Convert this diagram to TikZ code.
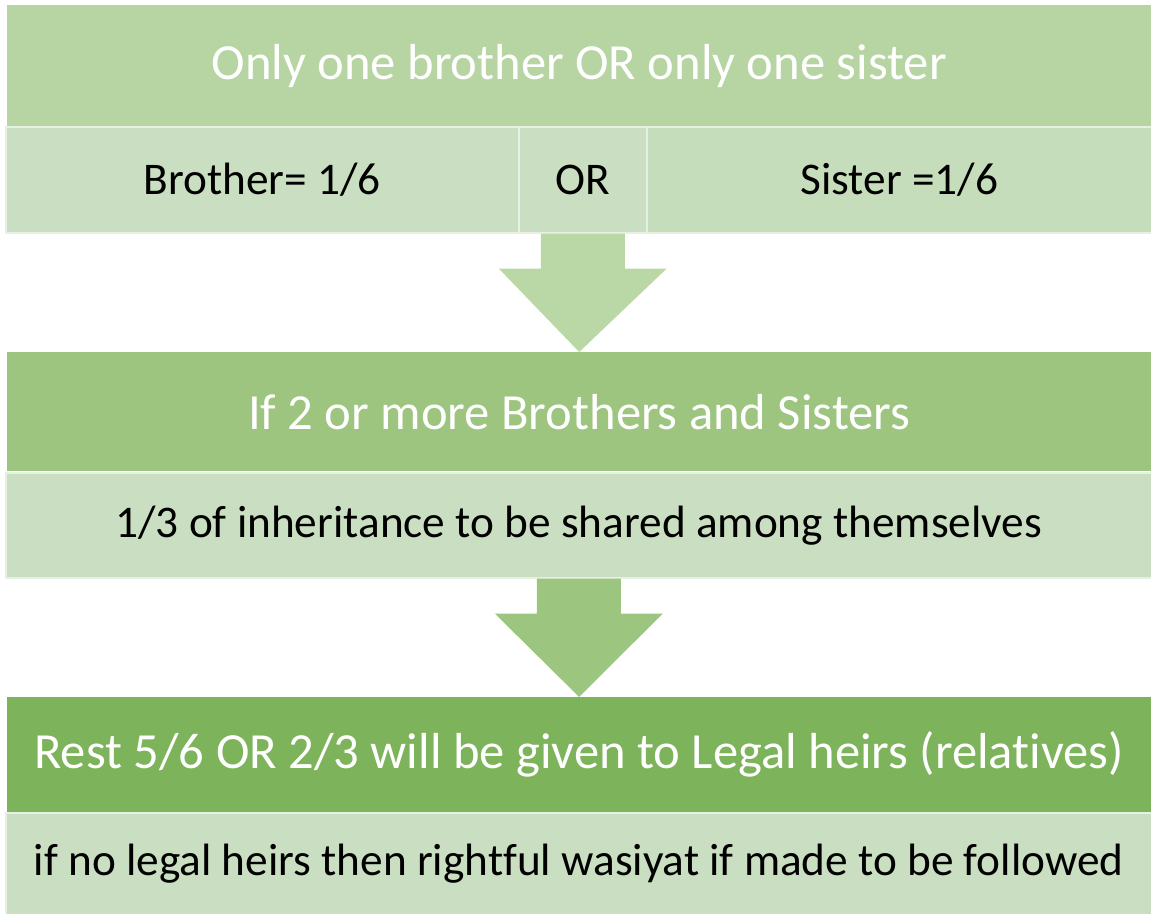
\documentclass[tikz,border=0pt]{standalone}
\usepackage{fontspec}
\setmainfont{Carlito}[Ligatures={NoCommon}]
\usetikzlibrary{calc}
\definecolor{topc}{HTML}{B7D5A3}
\definecolor{cellc}{HTML}{CADFC1}
\definecolor{cellr}{HTML}{C6DDBB}
\definecolor{midc}{HTML}{9DC57F}
\definecolor{botc}{HTML}{7DB35A}
\definecolor{arrA}{HTML}{BAD8A5}
\definecolor{arrB}{HTML}{9CC57F}
\tikzset{
  titlebox/.style={rectangle, inner sep=0pt, anchor=north west, text=white, font=\fontsize{50.6}{56}\selectfont},
  rowbox/.style={rectangle, inner sep=0pt, anchor=north west, fill=cellc, draw=white!55!cellc, line width=1.5pt, text=black, font=\fontsize{45.3}{50}\selectfont},
}
\begin{document}
\begin{tikzpicture}[x=1pt,y=-1pt]
\useasboundingbox (0,0) rectangle (1151,913);
% top section
\node[titlebox, fill=topc, minimum width=1144pt, minimum height=121pt] (t1) at (7,5) {Only one brother OR only one sister};
\node[rowbox, minimum width=513pt, minimum height=106pt] (c1) at (5,126) {Brother= 1/6};
\node[rowbox, minimum width=128pt, minimum height=106pt] (c2) at (518,126) {OR};
\node[rowbox, fill=cellr, draw=white!55!cellr, minimum width=505pt, minimum height=106pt] (c3) at (646,126) {Sister =1/6};
% second section
\node[titlebox, fill=midc, minimum width=1144pt, minimum height=119pt] (t2) at (7,352) {If 2 or more Brothers and Sisters};
\node[rowbox, minimum width=1146pt, minimum height=105pt] (r2) at (5,472) {1/3 of inheritance to be shared among themselves};
% third section
\node[titlebox, fill=botc, minimum width=1144pt, minimum height=115pt] (t3) at (7,697) {Rest 5/6 OR 2/3 will be given to Legal heirs (relatives)};
\node[rowbox, minimum width=1146pt, minimum height=102pt] (r3) at (5,812) {if no legal heirs then rightful wasiyat if made to be followed};
% block arrows
\fill[arrA] ($(c2.south)+(-42,0)$) -- ($(c2.south)+(42,0)$) -- ($(c2.south)+(42,35)$) -- ($(c2.south)+(84,35)$)
  -- (t2.north) -- ($(c2.south)+(-84,35)$) -- ($(c2.south)+(-42,35)$) -- cycle;
\fill[arrB] ($(r2.south)+(-42,0)$) -- ($(r2.south)+(42,0)$) -- ($(r2.south)+(42,35)$) -- ($(r2.south)+(84,35)$)
  -- (t3.north) -- ($(r2.south)+(-84,35)$) -- ($(r2.south)+(-42,35)$) -- cycle;
\end{tikzpicture}
\end{document}
